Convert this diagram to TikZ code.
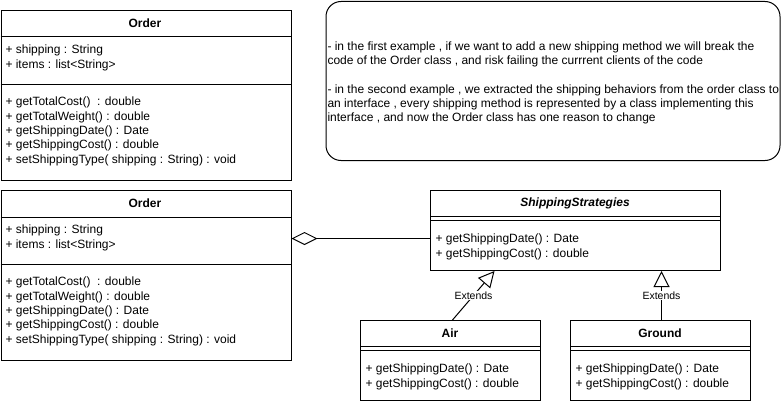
\documentclass[tikz,border=0pt]{standalone}
\usepackage{fontspec}
\setmainfont{Liberation Sans}
\usetikzlibrary{arrows.meta,positioning}

\begin{document}
\begin{tikzpicture}[
    x=1pt, y=-1pt, line width=1pt,
    font=\fontsize{12}{14.4}\selectfont,
    classbox/.style={draw, anchor=north west, inner sep=0pt, minimum width=290pt, minimum height=170pt},
    subbox/.style={classbox, minimum width=180pt, minimum height=80pt},
    cname/.style={font=\fontsize{12}{14.4}\selectfont\bfseries, inner sep=0pt},
    members/.style={anchor=north west, align=left, inner sep=0pt},
    notebox/.style={draw, rounded corners=15pt, anchor=north west, inner sep=0pt, minimum width=454pt, minimum height=159pt},
    aggr/.style={{Diamond[open, length=26pt, width=13pt]}-},
    extends/.style={-{Triangle[open, length=16pt, width=16pt]}},
    lbl/.style={fill=white, inner sep=1pt, font=\fontsize{10.5}{12}\selectfont}
]
\useasboundingbox (0,0) rectangle (781,404);

% first example
\node[classbox] (order) at (0.5,10) {};
\node[cname] (ordername) at (145,23.5) {Order};
\draw ([yshift=-27pt]order.north west) -- ([yshift=-27pt]order.north east);
\draw ([yshift=-74pt]order.north west) -- ([yshift=-74pt]order.north east);
\node[members] (orderattr) at (5,44.5) {+ shipping : String\\+ items : list<String>};
\node[members] (orderops) at (5,96.5) {+ getTotalCost()~ : double\\+ getTotalWeight() : double\\+ getShippingDate() : Date\\+ getShippingCost() : double\\+ setShippingType( shipping : String) : void};

% note
\node[notebox] (note) at (325.5,1) {};
\node[members, font=\fontsize{12}{14}\selectfont] (notetext) at (327,41.5) {- in the first example , if we want to add a new shipping method we will break the\\code of the Order class , and risk failing the currrent clients of the code\\[15pt]- in the second example , we extracted the shipping behaviors from the order class to\\an interface , every shipping method is represented by a class implementing this\\interface , and now the Order class has one reason to change};

% second example
\node[classbox] (order2) at (0.5,190) {};
\node[cname] (order2name) at (145,203.5) {Order};
\draw ([yshift=-27pt]order2.north west) -- ([yshift=-27pt]order2.north east);
\draw ([yshift=-74pt]order2.north west) -- ([yshift=-74pt]order2.north east);
\node[members] (order2attr) at (5,224.5) {+ shipping : String\\+ items : list<String>};
\node[members] (order2ops) at (5,276.5) {+ getTotalCost()~ : double\\+ getTotalWeight() : double\\+ getShippingDate() : Date\\+ getShippingCost() : double\\+ setShippingType( shipping : String) : void};

\node[classbox, minimum height=80pt] (strat) at (430,190) {};
\node[cname, font=\fontsize{12}{14.4}\selectfont\bfseries\itshape] (stratname) at (575,203.5) {ShippingStrategies};
\draw ([yshift=-26pt]strat.north west) -- ([yshift=-26pt]strat.north east);
\draw ([yshift=-30pt]strat.north west) -- ([yshift=-30pt]strat.north east);
\node[members] (stratops) at (435,233.5) {+ getShippingDate() : Date\\+ getShippingCost() : double};

\node[subbox] (air) at (360,320) {};
\node[cname] (airname) at (450,333.5) {Air};
\draw ([yshift=-26pt]air.north west) -- ([yshift=-26pt]air.north east);
\draw ([yshift=-30pt]air.north west) -- ([yshift=-30pt]air.north east);
\node[members] (airops) at (365,363.5) {+ getShippingDate() : Date\\+ getShippingCost() : double};

\node[subbox] (ground) at (570,320) {};
\node[cname] (groundname) at (660,333.5) {Ground};
\draw ([yshift=-26pt]ground.north west) -- ([yshift=-26pt]ground.north east);
\draw ([yshift=-30pt]ground.north west) -- ([yshift=-30pt]ground.north east);
\node[members] (groundops) at (575,363.5) {+ getShippingDate() : Date\\+ getShippingCost() : double};

% relations
\draw[aggr] ([yshift=-8pt]strat.west -| order2.east) -- ([yshift=-8pt]strat.west);
\draw[extends] ([xshift=2pt]air.north) -- ([xshift=-81pt]strat.south)
    node[lbl, midway] (airlbl) {Extends};
\draw[extends] ([xshift=1pt]ground.north) -- ([xshift=1pt]ground.north |- strat.south)
    node[lbl, midway] (groundlbl) {Extends};
\end{tikzpicture}
\end{document}
